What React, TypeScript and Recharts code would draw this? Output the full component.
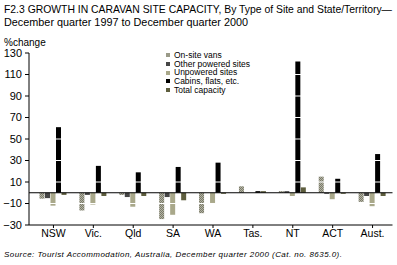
import React from 'react';
import { Bar, BarChart, ReferenceLine, XAxis, YAxis } from 'recharts';

const states = ['NSW', 'Vic.', 'Qld', 'SA', 'WA', 'Tas.', 'NT', 'ACT', 'Aust.'];
const onSiteVans = [-5.5, -16.5, -2, -24.5, -19, 6, 1.5, 15, -8.5];
const otherPowered = [-5, -2, -4, -4, 0, 0, 1.5, -1, -3];
const unpowered = [-12, -11, -13, -20.5, -9.5, 0, -3, -6, -12.5];
const cabins = [61, 25, 19, 24, 28, 1.5, 122, 13, 36];
const totalCapacity = [-2, -3, -3, -7, -1, 1.5, 5, -1, -3];
const yTicks = [-30, -10, 10, 30, 50, 70, 90, 110, 130];

const data = states.map((state, i) => ({
	state,
	onSite: onSiteVans[i],
	other: otherPowered[i],
	unpowered: unpowered[i],
	cabins: cabins[i],
	total: totalCapacity[i],
}));

const FONT = '"Liberation Sans", Arial, sans-serif';

const series = [
	{ key: 'onSite', name: 'On-site vans', fill: 'url(#checker)', swatch: '#9a9a88' },
	{ key: 'other', name: 'Other powered sites', fill: '#464646', swatch: '#464646' },
	{ key: 'unpowered', name: 'Unpowered sites', fill: '#a9a88a', swatch: '#a9a88a' },
	{ key: 'cabins', name: 'Cabins, flats, etc.', fill: '#000000', swatch: '#000000' },
	{ key: 'total', name: 'Total capacity', fill: '#5e5e3e', swatch: '#5e5e3e' },
];

function LegendBox() {
	return (
		<div
			style={{
				position: 'absolute',
				left: 166,
				top: 51,
				fontFamily: FONT,
				fontSize: 8.5,
				lineHeight: '8.7px',
			}}
		>
			{series.map((s) => (
				<div key={s.key} style={{ display: 'flex', alignItems: 'center', whiteSpace: 'nowrap' }}>
					<span
						style={{
							display: 'inline-block',
							width: 4,
							height: 4,
							background: s.swatch,
							marginRight: 4,
						}}
					/>
					{s.name}
				</div>
			))}
		</div>
	);
}

export default function App() {
	return (
		<div
			style={{
				position: 'absolute',
				top: 0,
				left: 0,
				width: 397,
				height: 265,
				background: '#fff',
				fontFamily: FONT,
				color: '#000',
			}}
		>
			<svg
				width={397}
				height={30}
				style={{ position: 'absolute', left: 0, top: 0 }}
				fontFamily={FONT}
				fontSize={10.5}
			>
				<text x={4} y={13} textLength={388} lengthAdjust="spacingAndGlyphs">
					F2.3 GROWTH IN CARAVAN SITE CAPACITY, By Type of Site and State/Territory—
				</text>
				<text x={4} y={25.5} textLength={244} lengthAdjust="spacingAndGlyphs">
					December quarter 1997 to December quarter 2000
				</text>
			</svg>
			<div style={{ position: 'absolute', left: 4, top: 37, fontSize: 10 }}>%change</div>
			<BarChart
				width={397}
				height={265}
				data={data}
				margin={{ top: 53, right: 4.5, bottom: 15, left: 0 }}
				barSize={5}
				barGap={0.5}
			>
				<defs>
					<pattern id="checker" width="2" height="2" patternUnits="userSpaceOnUse">
						<rect width="2" height="2" fill="#b4b4a4" />
						<rect width="1" height="1" fill="#7a7a6a" />
						<rect x="1" y="1" width="1" height="1" fill="#7a7a6a" />
					</pattern>
				</defs>
				<XAxis
					dataKey="state"
					height={25}
					padding={{ left: 4.5, right: 0 }}
					axisLine={{ stroke: '#000' }}
					tickLine={{ stroke: '#000' }}
					tickSize={3}
					tick={{ fill: '#000', fontSize: 10.5, fontFamily: FONT }}
					interval={0}
				/>
				<YAxis
					width={29}
					domain={[-30, 130]}
					ticks={yTicks}
					interval={0}
					axisLine={{ stroke: '#000' }}
					tickLine={{ stroke: '#000' }}
					tickSize={4}
					tickMargin={3}
					tick={{ fill: '#000', fontSize: 11, fontFamily: FONT }}
					tickFormatter={(v: number) => String(v).replace('-', '−')}
				/>
				{series.map((s) => (
					<Bar key={s.key} dataKey={s.key} name={s.name} fill={s.fill} isAnimationActive={false} />
				))}
				{yTicks.slice(1, -1).map((t) => (
					<ReferenceLine key={t} y={t} stroke="#fff" strokeWidth={1} />
				))}
				<ReferenceLine y={0} stroke="#000" strokeWidth={1} />
			</BarChart>
			<LegendBox />
			<div
				style={{
					position: 'absolute',
					left: 4,
					top: 250,
					fontSize: 8,
					letterSpacing: 0.45,
					fontStyle: 'italic',
					whiteSpace: 'nowrap',
				}}
			>
				Source: Tourist Accommodation, Australia, December quarter 2000 (Cat. no. 8635.0).
			</div>
		</div>
	);
}
